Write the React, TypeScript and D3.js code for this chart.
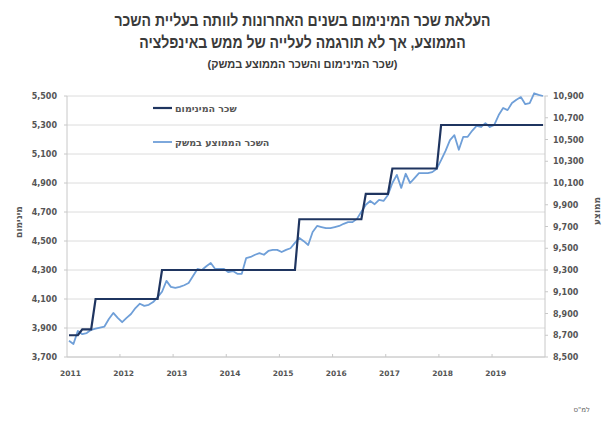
import React from "react";
import * as d3 from "d3";

// ---- data ----
const years = ["2011", "2012", "2013", "2014", "2015", "2016", "2017", "2018", "2019"];
const leftTicks = [3700, 3900, 4100, 4300, 4500, 4700, 4900, 5100, 5300, 5500];
const rightTicks = [8500, 8700, 8900, 9100, 9300, 9500, 9700, 9900, 10100, 10300, 10500, 10700, 10900];

// monthly minimum wage (NIS), Jan 2011 .. Dec 2019
const minWage = [
  3850, 3850, 3850, 3890, 3890, 3890, 4100, 4100, 4100, 4100, 4100, 4100,
  4100, 4100, 4100, 4100, 4100, 4100, 4100, 4100, 4100, 4300, 4300, 4300,
  4300, 4300, 4300, 4300, 4300, 4300, 4300, 4300, 4300, 4300, 4300, 4300,
  4300, 4300, 4300, 4300, 4300, 4300, 4300, 4300, 4300, 4300, 4300, 4300,
  4300, 4300, 4300, 4300, 4650, 4650, 4650, 4650, 4650, 4650, 4650, 4650,
  4650, 4650, 4650, 4650, 4650, 4650, 4650, 4825, 4825, 4825, 4825, 4825,
  4825, 5000, 5000, 5000, 5000, 5000, 5000, 5000, 5000, 5000, 5000, 5000,
  5300, 5300, 5300, 5300, 5300, 5300, 5300, 5300, 5300, 5300, 5300, 5300,
  5300, 5300, 5300, 5300, 5300, 5300, 5300, 5300, 5300, 5300, 5300, 5300,
];

// monthly average wage in the economy (NIS)
const avgWage = [
  8650, 8620, 8740, 8710, 8720, 8750, 8760, 8770, 8780, 8850, 8905, 8860,
  8820, 8860, 8895, 8950, 8990, 8970, 8980, 9005, 9050, 9100, 9200, 9145,
  9135, 9145, 9160, 9180, 9245, 9310, 9300, 9335, 9365, 9310, 9310, 9310,
  9280, 9290, 9265, 9265, 9410, 9420, 9440, 9455, 9440, 9475, 9485, 9485,
  9465, 9485, 9500, 9550, 9595, 9565, 9530, 9650, 9705, 9695, 9685, 9685,
  9695, 9705, 9725, 9740, 9740, 9770, 9835, 9900, 9935, 9905, 9945, 9935,
  9990, 10100, 10175, 10055, 10185, 10100, 10145, 10190, 10190, 10190, 10200, 10230,
  10310, 10395, 10495, 10540, 10405, 10525, 10525, 10580, 10625, 10615, 10650, 10615,
  10635, 10725, 10790, 10770, 10835, 10865, 10890, 10825, 10835, 10925, 10910, 10900,
];

const titleLines = [
  "העלאת שכר המינימום בשנים האחרונות לוותה בעליית השכר",
  "הממוצע, אך לא תורגמה לעלייה של ממש באינפלציה",
];
const subtitle = "(שכר המינימום והשכר הממוצע במשק)";
const legendLabels = ["שכר המינימום", "השכר הממוצע במשק"];
const leftTitle = "מינימום";
const rightTitle = "ממוצע";
const sourceText = "למ\"ס";

const W = 605;
const H = 426;
const plot = { left: 67, right: 545, top: 96, bottom: 357 };
const navy = "#1f3560";
const blue = "#6f9fd8";
const font = "'DejaVu Sans', 'Liberation Sans', sans-serif";
const titleFont = "'Liberation Sans', 'DejaVu Sans', sans-serif";

export default function App() {
  const x = d3.scaleLinear().domain([0, minWage.length - 1]).range([69, 543]);
  const yL = d3.scaleLinear().domain([3700, 5500]).range([plot.bottom, plot.top]);
  const yR = d3.scaleLinear().domain([8500, 10900]).range([plot.bottom, plot.top]);
  const fmt = d3.format(",");

  const lineMin = d3.line<number>().x((_, i) => x(i)).y((d) => yL(d))(minWage) || "";
  const lineAvg = d3.line<number>().x((_, i) => x(i)).y((d) => yR(d))(avgWage) || "";

  return (
    <svg
      width={W}
      height={H}
      style={{ position: "absolute", left: 0, top: 0, background: "#fff" }}
      fontFamily={font}
    >
      {/* title */}
      {titleLines.map((t, i) => (
        <text
          key={i}
          transform={`translate(${W / 2}, ${26 + i * 22}) scale(0.85, 1)`}
          textAnchor="middle"
          direction="rtl"
          fontSize={16.5}
          fontWeight="bold"
          fill="#3a3a3a"
          fontFamily={titleFont}
        >
          {t}
        </text>
      ))}
      <text
        x={W / 2}
        y={68}
        textAnchor="middle"
        direction="rtl"
        fontSize={11}
        fontWeight="bold"
        fill="#3a3a3a"
        fontFamily={titleFont}
      >
        {subtitle}
      </text>

      {/* gridlines */}
      {leftTicks.map((t) => (
        <line key={t} x1={plot.left} x2={plot.right} y1={yL(t)} y2={yL(t)} stroke="#dcdcdc" strokeWidth={1} />
      ))}
      {/* axes lines */}
      <line x1={plot.left} x2={plot.left} y1={plot.top} y2={plot.bottom} stroke="#c8c8c8" />
      <line x1={plot.right} x2={plot.right} y1={plot.top} y2={plot.bottom} stroke="#c8c8c8" />
      <line x1={plot.left} x2={plot.right} y1={plot.bottom} y2={plot.bottom} stroke="#c8c8c8" />

      {/* left ticks */}
      {leftTicks.map((t) => (
        <g key={t}>
          <line x1={plot.left - 3} x2={plot.left} y1={yL(t)} y2={yL(t)} stroke="#c8c8c8" />
          <text x={57} y={yL(t) + 3} textAnchor="end" fontSize={8} fontWeight="bold" fill="#555">
            {fmt(t)}
          </text>
        </g>
      ))}
      {/* right ticks */}
      {rightTicks.map((t) => (
        <g key={t}>
          <line x1={plot.right} x2={plot.right + 3} y1={yR(t)} y2={yR(t)} stroke="#c8c8c8" />
          <text x={553} y={yR(t) + 3} textAnchor="start" fontSize={8} fontWeight="bold" fill="#555">
            {fmt(t)}
          </text>
        </g>
      ))}
      {/* x ticks and labels */}
      {years.map((yr, k) => (
        <g key={yr}>
          {k > 0 && (
            <line x1={x(12 * k - 0.5)} x2={x(12 * k - 0.5)} y1={plot.bottom} y2={plot.bottom - 3} stroke="#c8c8c8" />
          )}
          <text x={x(12 * k) + 1.5} y={376} textAnchor="middle" fontSize={7.5} fontWeight="bold" fill="#555">
            {yr}
          </text>
        </g>
      ))}

      {/* axis titles */}
      <text
        transform={`translate(22, 222) rotate(-90)`}
        textAnchor="middle"
        fontSize={9}
        fontWeight="bold"
        fill="#555"
      >
        {leftTitle}
      </text>
      <text
        transform={`translate(600, 211) rotate(-90)`}
        textAnchor="middle"
        fontSize={9}
        fontWeight="bold"
        fill="#555"
      >
        {rightTitle}
      </text>

      {/* series */}
      <path d={lineAvg} fill="none" stroke={blue} strokeWidth={1.8} strokeLinejoin="round" />
      <path d={lineMin} fill="none" stroke={navy} strokeWidth={2.2} strokeLinejoin="miter" />

      {/* legend */}
      <line x1={153} x2={172} y1={108} y2={108} stroke={navy} strokeWidth={2.2} />
      <text x={175} y={111.5} fontSize={9.5} fontWeight="bold" fill="#555">
        {legendLabels[0]}
      </text>
      <line x1={153} x2={172} y1={142} y2={142} stroke={blue} strokeWidth={1.8} />
      <text x={175} y={145.5} fontSize={9.5} fontWeight="bold" fill="#555">
        {legendLabels[1]}
      </text>

      {/* source */}
      <text x={590} y={412} textAnchor="end" fontSize={7} fill="#666">
        {sourceText}
      </text>
    </svg>
  );
}
